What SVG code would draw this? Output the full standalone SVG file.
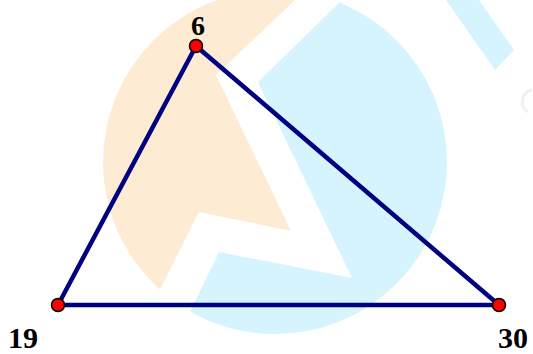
<svg xmlns="http://www.w3.org/2000/svg" width="533" height="354" viewBox="0 0 533 354">
<style>
.wm-o{fill:#FDEBD4}
.wm-b{fill:#D5F4FD}
.edge{stroke:#000080;stroke-width:4.5;stroke-linecap:round;fill:none}
.pt{fill:#FF0000;stroke:#000000;stroke-width:1.5}
.lbl{font-family:"Liberation Serif","Times New Roman",serif;font-weight:bold;fill:#000000}
</style>
<defs>
<clipPath id="logo"><circle cx="275" cy="162" r="172"/></clipPath>
</defs>
<rect width="533" height="354" fill="#FFFFFF"/>
<g id="watermark">
<g clip-path="url(#logo)">
<polygon class="wm-o" points="316,-20 216,75 291,231 199,212 130,350 0,354 0,-20"/>
<polygon class="wm-b" points="362.5,-20 258,82 352,278 219,252 167,360 533,360 533,-20"/>
</g>
<polygon class="wm-b" points="446,0 479,0 514,50 495,70"/>
<path d="M532,90 A12,12 0 0 0 528,112" fill="none" stroke="#F0F0F0" stroke-width="3"/>
</g>
<g id="connectors">
<line class="edge" x1="196" y1="46" x2="58" y2="305"/>
<line class="edge" x1="196" y1="46" x2="499" y2="305"/>
<line class="edge" x1="58" y1="305" x2="499" y2="305"/>
</g>
<g id="node-6">
<circle class="pt" cx="196" cy="46" r="6.5"/>
<text class="lbl" x="198" y="34.5" font-size="28" text-anchor="middle">6</text>
</g>
<g id="node-19">
<circle class="pt" cx="58" cy="305" r="6.5"/>
<text class="lbl" x="8" y="347.5" font-size="30">19</text>
</g>
<g id="node-30">
<circle class="pt" cx="499" cy="305" r="6.5"/>
<text class="lbl" x="498" y="347.5" font-size="30">30</text>
</g>
</svg>
